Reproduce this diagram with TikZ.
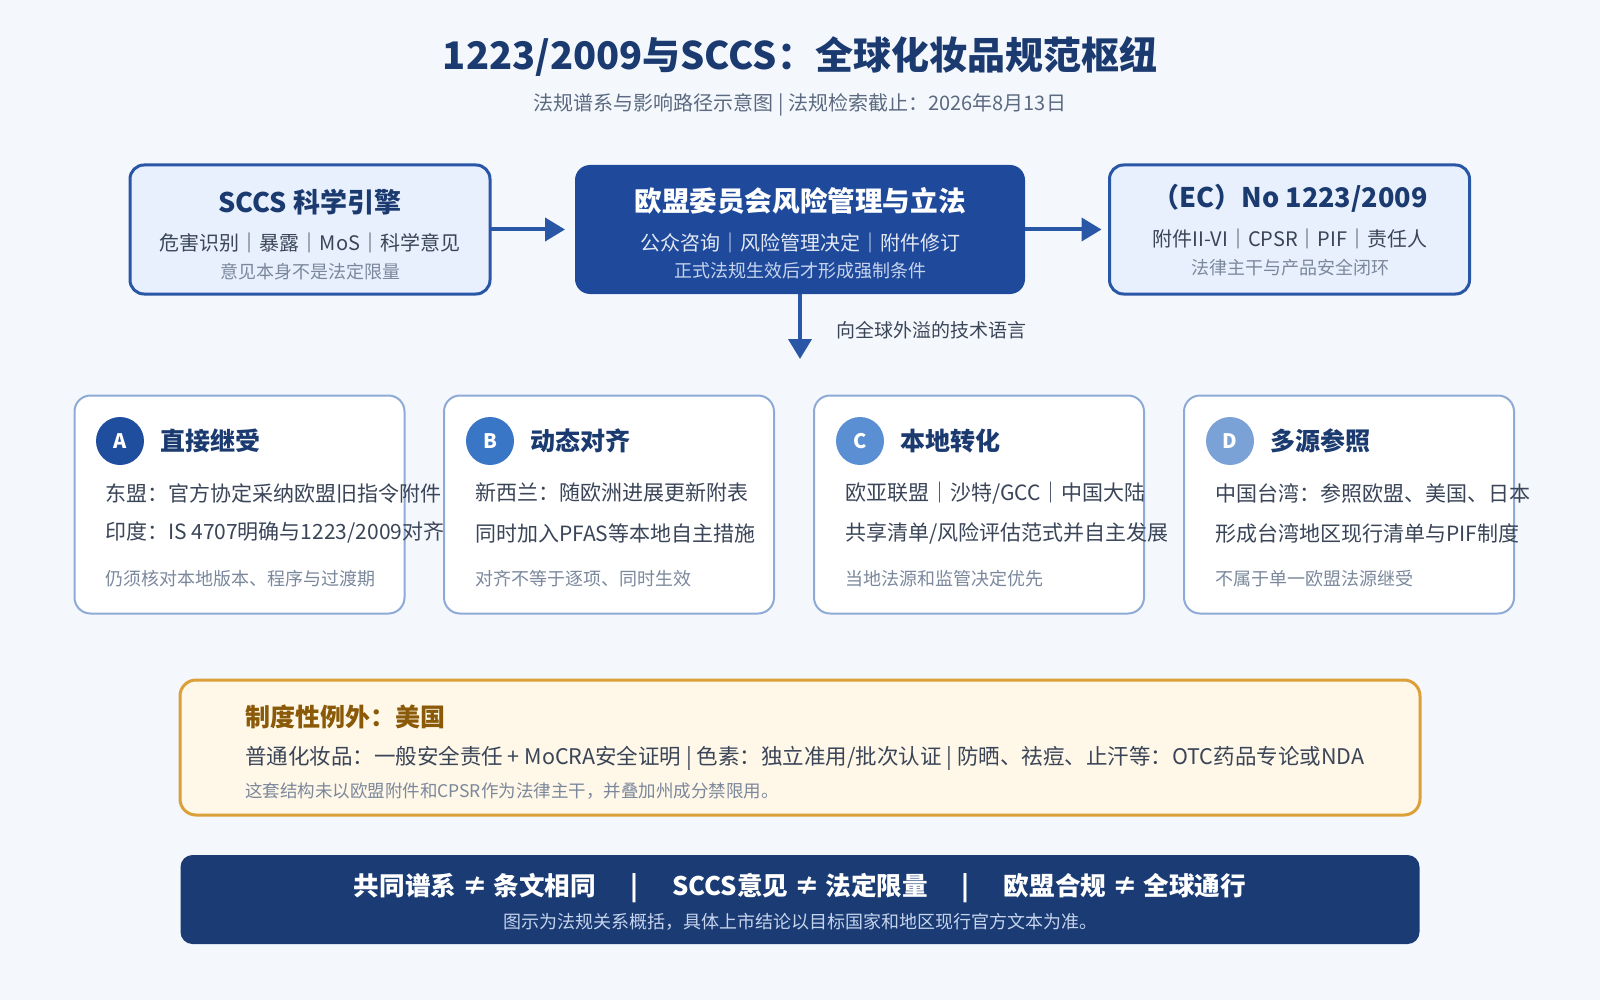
\documentclass[tikz,border=0pt]{standalone}
\usepackage{fontspec}
\setmainfont{Noto Sans CJK SC}
\usepackage{tikz}
\usetikzlibrary{arrows.meta,positioning}

\definecolor{pagebg}{HTML}{F4F8FD}
\definecolor{inknavy}{HTML}{1A3A70}
\definecolor{inkbody}{HTML}{3A4558}
\definecolor{inkmuted}{HTML}{7B889C}
\definecolor{subgray}{HTML}{5B6A80}
\definecolor{edgeblue}{HTML}{2A56A6}
\definecolor{paleblue}{HTML}{E7F0FC}
\definecolor{eublue}{HTML}{1F4A9C}
\definecolor{cardedge}{HTML}{8EAAD6}
\definecolor{toneA}{HTML}{1F4E9E}
\definecolor{toneB}{HTML}{3A76C6}
\definecolor{toneC}{HTML}{5B8FD3}
\definecolor{toneD}{HTML}{7BA2D6}
\definecolor{usfill}{HTML}{FFF7E7}
\definecolor{usedge}{HTML}{DCA03A}
\definecolor{usink}{HTML}{8A5A08}
\definecolor{footfill}{HTML}{1A3B73}
\definecolor{footsub}{HTML}{C6D4EE}

\begin{document}
\begin{tikzpicture}[
  x=1pt,y=-1pt,
  >={Triangle[length=20pt,width=23pt]},
  every node/.style={inner sep=0pt,outer sep=0pt},
  hbox/.style={draw=edgeblue,line width=3pt,fill=paleblue,rounded corners=14pt,
               minimum width=360pt,minimum height=129pt},
  eubox/.style={fill=eublue,rounded corners=15pt,
               minimum width=450pt,minimum height=129pt},
  card/.style={draw=cardedge,line width=2pt,fill=white,rounded corners=16pt,
               minimum width=330pt,minimum height=218pt},
  badge/.style={circle,minimum size=48pt,text=white,font=\bfseries\fontsize{20}{24}\selectfont},
  flow/.style={draw=edgeblue,line width=4pt,->},
  boxhead/.style={font=\bfseries\fontsize{27}{32}\selectfont},
  boxline/.style={font=\fontsize{20}{24}\selectfont},
  boxnote/.style={font=\fontsize{18}{22}\selectfont},
  cardhead/.style={anchor=west,text=inknavy,font=\bfseries\fontsize{25}{30}\selectfont},
  cardline/.style={anchor=west,text=inkbody,font=\fontsize{21}{25}\selectfont},
  cardnote/.style={anchor=west,text=inkmuted,font=\fontsize{18}{22}\selectfont}
]
\fill[pagebg] (0,0) rectangle (1600,1000);
\useasboundingbox (0,0) rectangle (1600,1000);

% ---- Title ----
\node[text=inknavy,font=\bfseries\fontsize{38}{45}\selectfont] (title) at (800,56)
  {1223/2009与SCCS：全球化妆品规范枢纽};
\node[text=subgray,font=\fontsize{20}{24}\selectfont] (subtitle) at (800,105)
  {法规谱系与影响路径示意图 | 法规检索截止：2026年8月13日};

% ---- Top row ----
\node[hbox] (sccs) at (310,229.5) {};
\node[boxhead,text=inknavy] at (310,202) {SCCS 科学引擎};
\node[boxline,text=inkbody] at (310,243) {危害识别｜暴露｜MoS｜科学意见};
\node[boxnote,text=inkmuted] at (310,272) {意见本身不是法定限量};

\node[eubox] (eu) at (800,229.5) {};
\node[boxhead,text=white,font=\bfseries\fontsize{27.6}{32}\selectfont] at (800,201) {欧盟委员会风险管理与立法};
\node[boxline,text=white!88!eublue] at (800,243) {公众咨询｜风险管理决定｜附件修订};
\node[boxnote,text=footsub] at (800,271) {正式法规生效后才形成强制条件};

\node[hbox] (ec) at (1289.5,229.5) {};
\node[boxhead,text=inknavy] at (1290,198) {（EC）No 1223/2009};
\node[boxline,text=inkbody] at (1290,239) {附件II-VI｜CPSR｜PIF｜责任人};
\node[boxnote,text=inkmuted] at (1290,268) {法律主干与产品安全闭环};

\draw[flow,shorten >=10pt] (sccs.east) -- (eu.west);
\draw[flow,shorten >=8pt] (eu.east) -- (ec.west);

\coordinate (spill) at (800,359);
\draw[flow] (eu.south) -- (spill);
\node[anchor=west,text=inkbody,font=\fontsize{19}{23}\selectfont] (spilltxt) at (836,330)
  {向全球外溢的技术语言};

% ---- Four paths ----
\node[card] (cardA) at (239.5,504.5) {};
\node[badge,fill=toneA] (badgeA) at (120,441) {A};
\node[cardhead] at (160,441) {直接继受};
\node[cardline] at (105,493) {东盟：官方协定采纳欧盟旧指令附件};
\node[cardline] at (105,533) {印度：IS 4707明确与1223/2009对齐};
\node[cardnote] at (105,579) {仍须核对本地版本、程序与过渡期};

\node[card] (cardB) at (609,504.5) {};
\node[badge,fill=toneB] (badgeB) at (490,441) {B};
\node[cardhead] at (530,441) {动态对齐};
\node[cardline] at (475,493) {新西兰：随欧洲进展更新附表};
\node[cardline] at (475,533) {同时加入PFAS等本地自主措施};
\node[cardnote] at (475,579) {对齐不等于逐项、同时生效};

\node[card] (cardC) at (979,504.5) {};
\node[badge,fill=toneC] (badgeC) at (860,441) {C};
\node[cardhead] at (900,441) {本地转化};
\node[cardline] at (845,493) {欧亚联盟｜沙特/GCC｜中国大陆};
\node[cardline] at (845,533) {共享清单/风险评估范式并自主发展};
\node[cardnote] at (845,579) {当地法源和监管决定优先};

\node[card] (cardD) at (1349,504.5) {};
\node[badge,fill=toneD] (badgeD) at (1230,441) {D};
\node[cardhead] at (1270,441) {多源参照};
\node[cardline] at (1215,493) {中国台湾：参照欧盟、美国、日本};
\node[cardline] at (1215,533) {形成台湾地区现行清单与PIF制度};
\node[cardnote] at (1215,579) {不属于单一欧盟法源继受};

% ---- US exception ----
\node[draw=usedge,line width=3pt,fill=usfill,rounded corners=16pt,
      minimum width=1240pt,minimum height=135pt] (usbox) at (800,747.5) {};
\node[anchor=west,text=usink,font=\bfseries\fontsize{25}{30}\selectfont] at (245,717)
  {制度性例外：美国};
\node[anchor=west,text=inkbody,font=\fontsize{21.5}{25}\selectfont] at (245,758)
  {普通化妆品：一般安全责任 + MoCRA安全证明 | 色素：独立准用/批次认证 | 防晒、祛痘、止汗等：OTC药品专论或NDA};
\node[anchor=west,text=inkmuted,font=\fontsize{17.5}{21}\selectfont] at (245,791)
  {这套结构未以欧盟附件和CPSR作为法律主干，并叠加州成分禁限用。};

% ---- Footer ----
\node[fill=footfill,rounded corners=12pt,minimum width=1239pt,minimum height=89pt]
  (foot) at (800,899.5) {};
\node[text=white,font=\bfseries\fontsize{25.6}{30}\selectfont] at (800,888)
  {共同谱系 ≠ 条文相同\hspace{34pt}|\hspace{34pt}SCCS意见 ≠ 法定限量\hspace{34pt}|\hspace{34pt}欧盟合规 ≠ 全球通行};
\node[text=footsub,font=\fontsize{18}{22}\selectfont] at (800,922)
  {图示为法规关系概括，具体上市结论以目标国家和地区现行官方文本为准。};

\end{tikzpicture}
\end{document}
